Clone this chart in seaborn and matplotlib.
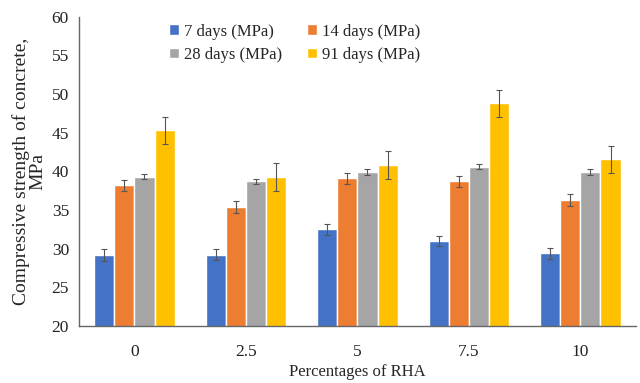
import numpy as np
import pandas as pd
import matplotlib
matplotlib.use('Agg')
import matplotlib.pyplot as plt
import seaborn as sns

# ------------------------ данные
rha = ['0', '2.5', '5', '7.5', '10']
series = ['7 days (MPa)', '14 days (MPa)', '28 days (MPa)', '91 days (MPa)']
days7 = [29.2, 29.2, 32.5, 31.0, 29.4]
days14 = [38.2, 35.4, 39.1, 38.7, 36.3]
days28 = [39.3, 38.7, 39.9, 40.6, 39.9]
days91 = [45.3, 39.3, 40.8, 48.8, 41.6]
err7 = [0.75, 0.7, 0.7, 0.7, 0.7]
err14 = [0.7, 0.75, 0.75, 0.75, 0.75]
err28 = [0.3, 0.3, 0.35, 0.3, 0.35]
err91 = [1.8, 1.8, 1.8, 1.75, 1.75]
colors = ['#4472C4', '#ED7D31', '#A5A5A5', '#FFC000']

values = [days7, days14, days28, days91]
errors = [err7, err14, err28, err91]

df = pd.DataFrame({
    'rha': rha * len(series),
    'series': [s for s in series for _ in rha],
    'value': [v for vals in values for v in vals],
})

sns.set_style('white')
plt.rcParams['font.family'] = ['Liberation Serif', 'DejaVu Serif']

fig = plt.figure(figsize=(6.4, 3.83), dpi=100)
ax = fig.add_axes([0.123, 0.149, 0.871, 0.807])

sns.barplot(data=df, x='rha', y='value', hue='series', order=rha, hue_order=series,
            palette=colors, width=0.72, errorbar=None, saturation=1, ax=ax)

# Error bars поверх столбцов
for cont, errs in zip(ax.containers, errors):
    xs = [b.get_x() + b.get_width() / 2 for b in cont]
    hs = [b.get_height() for b in cont]
    ax.errorbar(xs, hs, yerr=errs, fmt='none', ecolor='#555555',
                elinewidth=0.8, capsize=2, capthick=0.8)

# Оформление осей
ax.set_xlim(-0.5, 4.5)
ax.set_ylim(20, 60)
ax.set_yticks(np.arange(20, 61, 5))
ax.set_xticks([4.5], minor=True)
for s in ['top', 'right']:
    ax.spines[s].set_visible(False)
for s in ['left', 'bottom']:
    ax.spines[s].set_color('#666666')
    ax.spines[s].set_linewidth(1.0)
ax.tick_params(axis='both', which='both', direction='inout', length=6, width=1,
               color='#666666', labelsize=12.5, labelcolor='#222222')
ax.tick_params(axis='x', pad=10)
ax.tick_params(axis='y', pad=4)

ax.set_xlabel('Percentages of RHA', fontsize=12, labelpad=3)
ax.set_ylabel('Compressive strength of concrete,\nMPa', fontsize=14,
              linespacing=0.9, labelpad=4)

# Легенда построчно: 7, 14 / 28, 91
handles, labels = ax.get_legend_handles_labels()
order = [0, 2, 1, 3]
ax.legend([handles[i] for i in order], [labels[i] for i in order], ncol=2,
          frameon=False, loc='upper left', bbox_to_anchor=(0.15, 1.0),
          borderaxespad=0, fontsize=12, handlelength=0.6, handleheight=0.6,
          handletextpad=0.3, columnspacing=1.5, labelspacing=0.45)

fig.savefig('out.png', dpi=100)
